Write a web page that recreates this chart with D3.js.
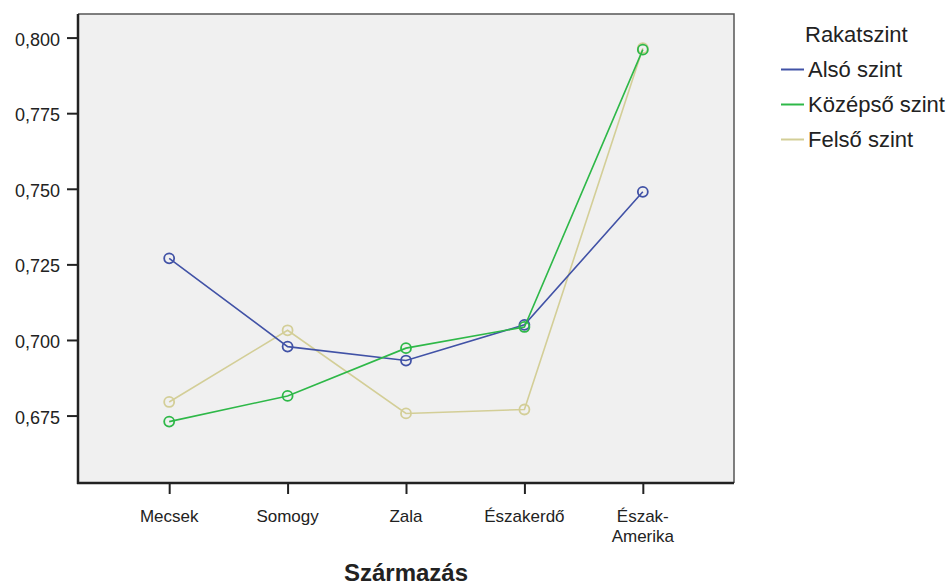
<!DOCTYPE html>
<html>
<head>
<meta charset="utf-8">
<script src="https://cdn.jsdelivr.net/npm/d3@7"></script>
<style>
  html, body { margin: 0; padding: 0; background: #ffffff; }
  svg { display: block; }
  text { font-family: "Liberation Sans", Arial, sans-serif; fill: #222; }
</style>
</head>
<body>
<svg id="chart" width="950" height="586"></svg>
<script>
const categories = ["Mecsek", "Somogy", "Zala", "Északerdő", "Észak-Amerika"];
const categoryLabels = [["Mecsek"], ["Somogy"], ["Zala"], ["Északerdő"], ["Észak-", "Amerika"]];
const alsoSzint = [0.727, 0.6978, 0.6932, 0.7050, 0.7490];
const kozepsoSzint = [0.6730, 0.6815, 0.6973, 0.7043, 0.7960];
const felsoSzint = [0.6795, 0.7032, 0.6757, 0.6770, 0.7965];
const seriesNames = ["Alsó szint", "Középső szint", "Felső szint"];
const seriesColors = ["#4152A6", "#2EB848", "#D3CE97"];
const yTicks = [0.675, 0.700, 0.725, 0.750, 0.775, 0.800];
const yDomain = [0.6527, 0.8078];
const legendTitle = "Rakatszint";
const xTitle = "Származás";

const svg = d3.select("#chart");
const plot = { left: 78, right: 734, top: 14, bottom: 483 };

const x = d3.scalePoint().domain(categories).range([plot.left, plot.right]).padding(0.77);
const y = d3.scaleLinear().domain(yDomain).range([plot.bottom, plot.top]);

// background
svg.append("rect")
  .attr("x", plot.left).attr("y", plot.top)
  .attr("width", plot.right - plot.left).attr("height", plot.bottom - plot.top)
  .attr("fill", "#f0f0f0");
// top and right border
svg.append("path")
  .attr("d", `M${plot.left},${plot.top}H${plot.right}V${plot.bottom}`)
  .attr("fill", "none").attr("stroke", "#555").attr("stroke-width", 1.5);

// Y axis
const yAxis = svg.append("g").attr("transform", `translate(${plot.left},0)`)
  .call(d3.axisLeft(y).tickValues(yTicks).tickSize(11).tickPadding(7)
    .tickFormat(d => d3.format(".3f")(d).replace(".", ",")));
yAxis.select(".domain").remove();
yAxis.selectAll(".tick line").attr("stroke", "#222").attr("stroke-width", 2);
yAxis.selectAll(".tick text").attr("font-size", 18).attr("fill", "#2a2a2a").attr("dy", "0.42em")
  .attr("font-family", '"Liberation Sans", Arial, sans-serif');

// X axis
const xAxis = svg.append("g").attr("transform", `translate(0,${plot.bottom})`)
  .call(d3.axisBottom(x).tickSize(11).tickFormat(""));
xAxis.select(".domain").remove();
xAxis.selectAll(".tick line").attr("stroke", "#222").attr("stroke-width", 2);
categories.forEach((c, i) => {
  const t = svg.append("text")
    .attr("x", x(c)).attr("y", 522)
    .attr("text-anchor", "middle").attr("font-size", 17).attr("fill", "#2a2a2a");
  categoryLabels[i].forEach((line, j) => {
    t.append("tspan").attr("x", x(c)).attr("dy", j === 0 ? 0 : 19.5).text(line);
  });
});

// axis lines
svg.append("line").attr("x1", plot.left).attr("x2", plot.left)
  .attr("y1", plot.top).attr("y2", plot.bottom + 1)
  .attr("stroke", "#222").attr("stroke-width", 2.5);
svg.append("line").attr("x1", plot.left - 1).attr("x2", plot.right)
  .attr("y1", plot.bottom).attr("y2", plot.bottom)
  .attr("stroke", "#222").attr("stroke-width", 2.5);

// X title
svg.append("text")
  .attr("x", (plot.left + plot.right) / 2).attr("y", 581)
  .attr("text-anchor", "middle").attr("font-size", 24).attr("font-weight", "bold")
  .attr("fill", "#111").text(xTitle);

// series
const allSeries = [alsoSzint, kozepsoSzint, felsoSzint];
const drawOrder = [2, 0, 1];
const line = d3.line().x((d, i) => x(categories[i])).y(d => y(d));
drawOrder.forEach(si => {
  const vals = allSeries[si];
  const g = svg.append("g");
  g.append("path").datum(vals)
    .attr("d", line).attr("fill", "none")
    .attr("stroke", seriesColors[si]).attr("stroke-width", 1.6);
  g.selectAll("circle").data(vals).join("circle")
    .attr("cx", (d, i) => x(categories[i])).attr("cy", d => y(d))
    .attr("r", 5).attr("fill", "none")
    .attr("stroke", seriesColors[si]).attr("stroke-width", 1.8);
});

// legend
svg.append("text").attr("x", 805).attr("y", 42)
  .attr("font-size", 22).attr("fill", "#2a2a2a").text(legendTitle);
seriesNames.forEach((name, i) => {
  const by = 77 + i * 35;
  svg.append("line").attr("x1", 781).attr("x2", 804)
    .attr("y1", by - 7.5).attr("y2", by - 7.5)
    .attr("stroke", seriesColors[i]).attr("stroke-width", 2);
  svg.append("text").attr("x", 808).attr("y", by)
    .attr("font-size", 22).attr("fill", "#2a2a2a").text(name);
});
</script>
</body>
</html>
